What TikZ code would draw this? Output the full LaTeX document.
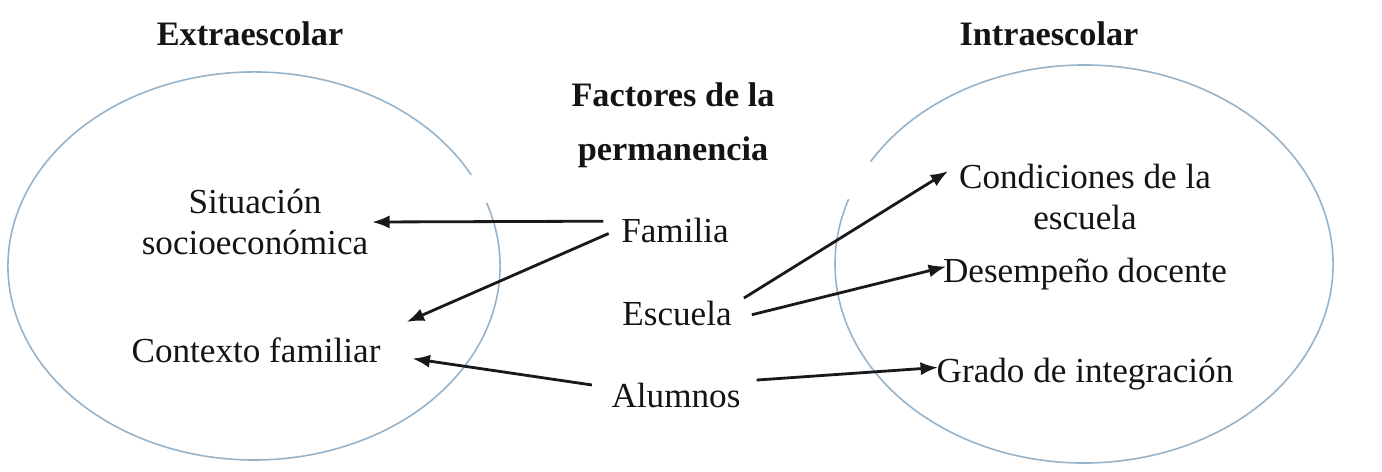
\documentclass[tikz,border=0pt]{standalone}
\usepackage{fontspec}
\setmainfont{Liberation Serif}
\usetikzlibrary{arrows.meta,positioning}
\definecolor{ovalblue}{RGB}{150,178,200}

\begin{document}
\begin{tikzpicture}[x=0.02cm, y=-0.02cm,
        every node/.style={font=\fontsize{20}{23}\selectfont, text=black!92, inner sep=2pt},
        hdr/.style={font=\fontsize{19.5}{31}\selectfont\bfseries, align=center},
        lbl/.style={align=center},
        arr/.style={-{Latex[length=10pt,width=7.5pt]}, line width=1.6pt, draw=black!90},
        oval/.style={draw=ovalblue, line width=0.9pt}]
        \useasboundingbox (0,0) rectangle (1382,471);
        % the two open ovals
        \draw[oval] (486.6,202.8) arc[start angle=-19, end angle=332, x radius=246, y radius=194];
        \draw[oval] (870.6,161.5) arc[start angle=-149, end angle=199, x radius=249, y radius=199];
        % headings
        \node[hdr, anchor=base] (extra) at (250,45) {Extraescolar};
        \node[hdr, anchor=base] (intra) at (1049,45) {Intraescolar};
        \node[hdr] (factores) at (673,125) {Factores de la\\permanencia};
        % middle column
        \node[anchor=base] (fam) at (675,242) {Familia};
        \node[anchor=base] (esc) at (677,325) {Escuela};
        \node[anchor=base] (alu) at (676,407) {Alumnos};
        % left oval
        \node[lbl] (sit) at (255,222) {Situación\\socioeconómica};
        \node[anchor=base] (ctx) at (256,362) {Contexto familiar};
        % right oval
        \node[lbl] (cond) at (1085,197) {Condiciones de la\\escuela};
        \node[anchor=base] (des) at (1085,282) {Desempeño docente};
        \node[anchor=base] (gra) at (1085,382) {Grado de integración};
        % arrows
        \draw[arr] ([xshift=-8pt, yshift=5pt]fam.west) -- (sit.east);
        \draw[arr] ([xshift=-5pt, yshift=-2pt]fam.west) -- ([xshift=12.7pt, yshift=6.5pt]ctx.north east);
        \draw[arr] ([xshift=-9pt, yshift=5.7pt]alu.west) -- ([xshift=16pt, yshift=-5pt]ctx.east);
        \draw[arr] ([xshift=4.8pt, yshift=8.5pt]esc.east) -- ([xshift=-4pt, yshift=-6pt]cond.north west);
        \draw[arr] ([xshift=9.3pt, yshift=-1pt]esc.east) -- ([xshift=4pt, yshift=4pt]des.west);
        \draw[arr] ([xshift=7pt, yshift=8.5pt]alu.east) -- ([xshift=3pt, yshift=3.5pt]gra.west);
    \end{tikzpicture}
\end{document}
